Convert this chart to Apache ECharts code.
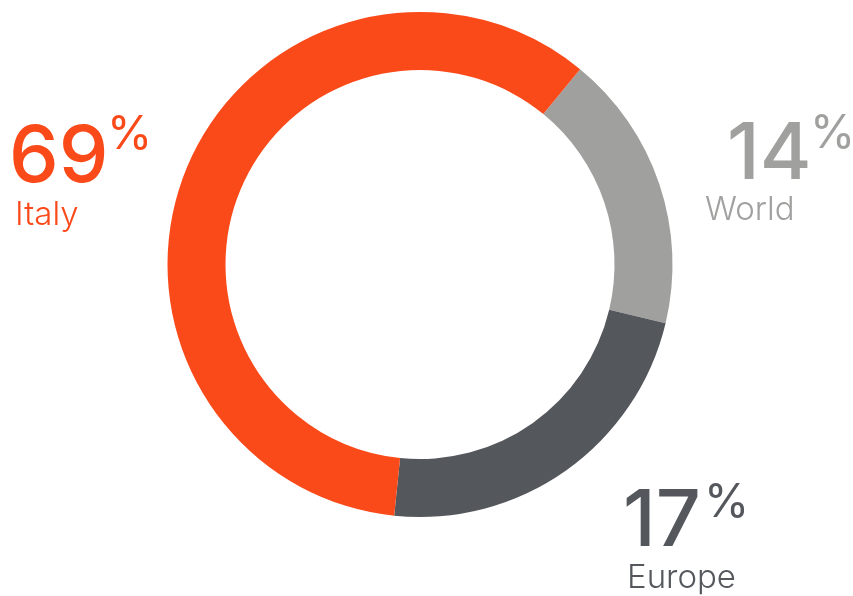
<!DOCTYPE html>
<html>
<head>
<meta charset="utf-8">
<script src="https://cdn.jsdelivr.net/npm/echarts@6/dist/echarts.min.js"></script>
<style>
  html, body { margin: 0; padding: 0; background: #fff; }
  #chart { width: 853px; height: 596px; }
</style>
</head>
<body>
<div id="chart"></div>
<script>
(function () {
  // slice order clockwise, starting at the top right
  const names = ['World', 'Europe', 'Italy']
  const arcShare = [17.8, 22.9, 59.3]     // share of the ring as drawn
  const shown = ['14', '17', '69']        // percentages printed next to it
  const colors = ['#a0a09f', '#54575c', '#fb4a1a']

  const font = 'Inter, "DejaVu Sans", sans-serif'

  // label anchors (left, top) for number, percent sign and name
  const spots = [
    { nx: 727, ny: 116, px: 810, py: 111, tx: 705, ty: 194 },
    { nx: 623, ny: 483, px: 704, py: 480, tx: 627, ty: 562 },
    { nx: 9, ny: 119, px: 107, py: 112, tx: 15, ty: 199 }
  ]

  const graphics = []
  names.forEach(function (n, i) {
    const s = spots[i]
    graphics.push({
      type: 'text', left: s.nx, top: s.ny,
      style: { text: shown[i], font: '500 79px ' + font, fill: colors[i] }
    })
    graphics.push({
      type: 'text', left: s.px, top: s.py,
      style: { text: '%', font: '400 46px ' + font, fill: colors[i] }
    })
    graphics.push({
      type: 'text', left: s.tx, top: s.ty,
      style: { text: n, font: '300 33px ' + font, fill: colors[i] }
    })
  })

  const chart = echarts.init(document.getElementById('chart'))
  chart.setOption({
    animation: false,
    color: colors,
    series: [{
      type: 'pie',
      center: [420, 264.5],
      radius: [194.5, 252.5],
      startAngle: 50.65,
      clockwise: true,
      label: { show: false },
      labelLine: { show: false },
      emphasis: { disabled: true },
      itemStyle: { borderWidth: 0 },
      data: names.map(function (n, i) { return { name: n, value: arcShare[i] } })
    }],
    graphic: graphics
  })

  window.addEventListener('resize', function () { chart.resize() })
})()
</script>
</body>
</html>
